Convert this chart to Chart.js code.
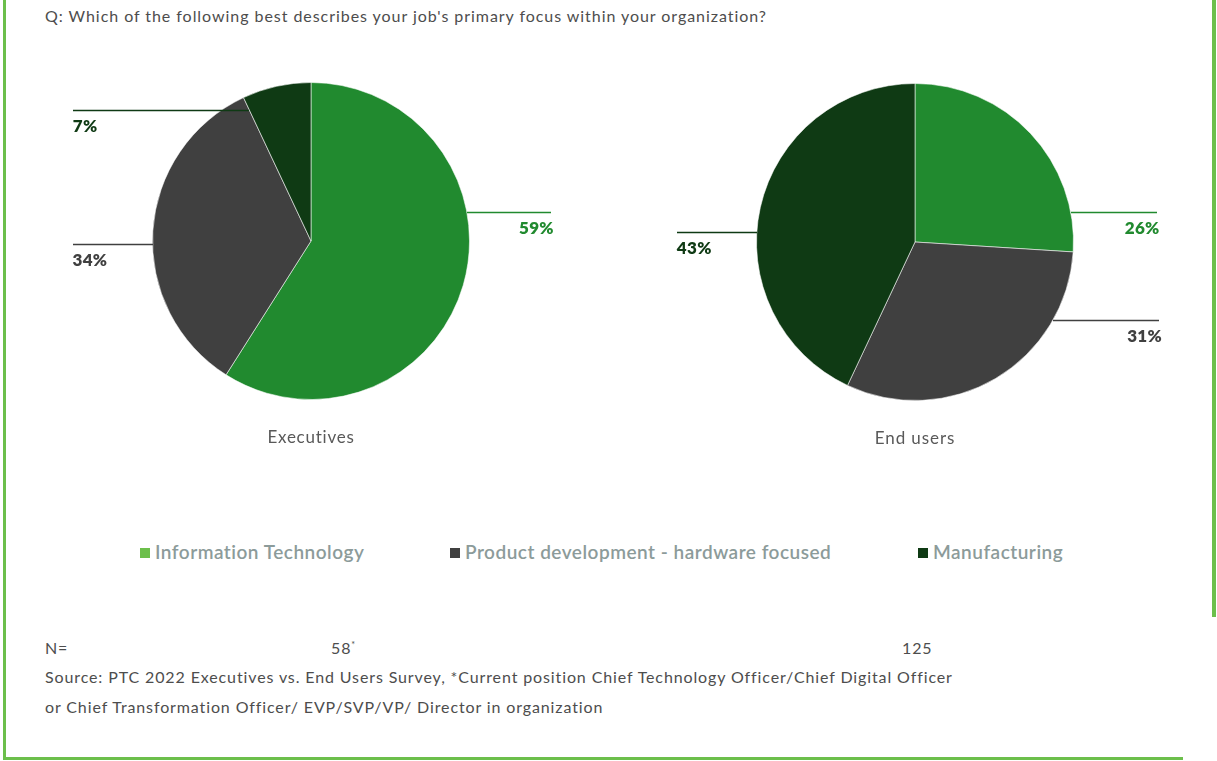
<!DOCTYPE html>
<html>
<head>
<meta charset="utf-8">
<script src="https://cdn.jsdelivr.net/npm/chart.js@4/dist/chart.umd.min.js"></script>
<style>
  html, body { margin: 0; padding: 0; background: #fff; }
  body { width: 1217px; height: 761px; position: relative; overflow: hidden; font-family: Lato, "Open Sans", sans-serif; }
  .frame-l { position: absolute; left: 3px; top: 0; width: 3px; height: 760px; background: #6cbf4b; }
  .frame-r { position: absolute; left: 1212px; top: 0; width: 4px; height: 617px; background: #6cbf4b; }
  .frame-b { position: absolute; left: 3px; top: 757px; width: 1180px; height: 3px; background: #6cbf4b; }
  .question { position: absolute; left: 45px; top: 6px; font-size: 16px; letter-spacing: 0.95px; color: #4d4d4d; white-space: nowrap; }
  .pie-box { position: absolute; top: 0; width: 608px; height: 470px; }
  .legend { position: absolute; top: 540px; left: 0; width: 1217px; height: 24px; }
  .legend .item { position: absolute; top: 0; font-size: 19px; font-weight: 600; letter-spacing: 0.5px; color: #8c9b9a; white-space: nowrap; line-height: 24px; }
  .legend .sw { display: inline-block; width: 10px; height: 10px; margin-right: 5px; vertical-align: 1px; }
  .note { position: absolute; font-size: 16px; letter-spacing: 0.88px; color: #4d4d4d; white-space: nowrap; }
</style>
</head>
<body>
<div class="frame-l"></div>
<div class="frame-r"></div>
<div class="frame-b"></div>

<div class="question">Q: Which of the following best describes your job's primary focus within your organization?</div>

<div class="pie-box" style="left:0"><canvas id="pieExec"></canvas></div>
<div class="pie-box" style="left:604px"><canvas id="pieUsers"></canvas></div>

<div class="legend" id="legend"></div>

<div class="note" style="left:45px; top:638px;">N=</div>
<div class="note" style="left:331px; top:638px;">58<sup style="font-size:9px">*</sup></div>
<div class="note" style="left:902px; top:638px;">125</div>
<div class="note" style="left:45px; top:667px;">Source: PTC 2022 Executives vs. End Users Survey, *Current position Chief Technology Officer/Chief Digital Officer</div>
<div class="note" style="left:45px; top:697px;">or Chief Transformation Officer/ EVP/SVP/VP/ Director in organization</div>

<script>
// Survey answer categories and shares (%)
const categories = ['Information Technology', 'Product development - hardware focused', 'Manufacturing'];
const executivesShare = [59, 34, 7];
const endUsersShare = [26, 31, 43];
const groupNames = ['Executives', 'End users'];

const sliceColors = ['#218a2f', '#404040', '#0f3a14'];
const legendColors = ['#6cbf4b', '#404040', '#0f3a14'];

// Leader-line placement per slice: side of the pie, vertical offset of the
// line from the pie centre, how far past the rim the line runs, and any
// extra length inside the rim.
const execCallouts = [
  { side: 'right', dy: -29, reach: 84, inset: 0 },
  { side: 'left', dy: 3, reach: 80, inset: 0 },
  { side: 'left', dy: -131, reach: 149, inset: 27 }
];
const usersCallouts = [
  { side: 'right', dy: -30, reach: 86, inset: 0 },
  { side: 'right', dy: 78, reach: 106, inset: 0 },
  { side: 'left', dy: -10, reach: 80, inset: 0 }
];

// Legend
const legendX = [140, 450, 918];
const legendEl = document.getElementById('legend');
categories.forEach((c, i) => {
  const d = document.createElement('div');
  d.className = 'item';
  d.style.left = legendX[i] + 'px';
  d.innerHTML = '<span class="sw" style="background:' + legendColors[i] + '"></span>' + c;
  legendEl.appendChild(d);
});

// Draws the percentage callouts and the group caption under each pie
const calloutPlugin = {
  id: 'callouts',
  afterDatasetsDraw(chart, args, opts) {
    const ctx = chart.ctx;
    const meta = chart.getDatasetMeta(0);
    const values = chart.data.datasets[0].data;
    const arc0 = meta.data[0];
    const cx = arc0.x, cy = arc0.y, r = arc0.outerRadius;
    ctx.save();
    opts.callouts.forEach((c, i) => {
      const y = cy + c.dy;
      const half = Math.sqrt(Math.max(r * r - c.dy * c.dy, 0));
      const dir = c.side === 'right' ? 1 : -1;
      const xRim = cx + dir * (half - c.inset);
      const xEnd = cx + dir * (half + c.reach);
      ctx.strokeStyle = sliceColors[i];
      ctx.lineWidth = 1.5;
      ctx.beginPath();
      ctx.moveTo(Math.round(xRim), Math.round(y) + 0.5);
      ctx.lineTo(Math.round(xEnd), Math.round(y) + 0.5);
      ctx.stroke();
      ctx.fillStyle = sliceColors[i];
      ctx.font = '800 17px Lato, sans-serif';
      ctx.letterSpacing = '0.3px';
      ctx.textBaseline = 'alphabetic';
      ctx.textAlign = c.side === 'right' ? 'right' : 'left';
      ctx.fillText(values[i] + '%', xEnd + (c.side === 'right' ? 3 : 0), y + 22);
    });
    ctx.fillStyle = '#595959';
    ctx.font = '17px Lato, sans-serif';
    ctx.letterSpacing = opts.captionSpacing;
    ctx.textAlign = 'center';
    ctx.textBaseline = 'middle';
    ctx.fillText(opts.caption, cx, cy + r + 38);
    ctx.restore();
  }
};

function makePie(id, values, caption, callouts, pad, captionSpacing) {
  return new Chart(document.getElementById(id), {
    type: 'pie',
    data: {
      labels: categories,
      datasets: [{
        data: values,
        backgroundColor: sliceColors,
        borderColor: 'rgba(255,255,255,0.55)',
        borderWidth: 1,
        hoverOffset: 0
      }]
    },
    options: {
      responsive: false,
      animation: false,
      layout: { padding: pad },
      plugins: {
        legend: { display: false },
        tooltip: { enabled: false },
        callouts: { caption: caption, callouts: callouts, captionSpacing: captionSpacing }
      }
    },
    plugins: [calloutPlugin]
  });
}

function sizeCanvas(id) {
  const c = document.getElementById(id);
  c.width = 608; c.height = 470;
  c.style.width = '608px'; c.style.height = '470px';
}
sizeCanvas('pieExec');
sizeCanvas('pieUsers');

// centre (311, 241), radius ~158
makePie('pieExec', executivesShare, groupNames[0], execCallouts,
  { left: 152, right: 138, top: 82, bottom: 70 }, '0.75px');
// centre (915, 242) on the page, canvas starts at x = 604
makePie('pieUsers', endUsersShare, groupNames[1], usersCallouts,
  { left: 152, right: 138, top: 83, bottom: 69 }, '0.9px');
</script>
</body>
</html>
